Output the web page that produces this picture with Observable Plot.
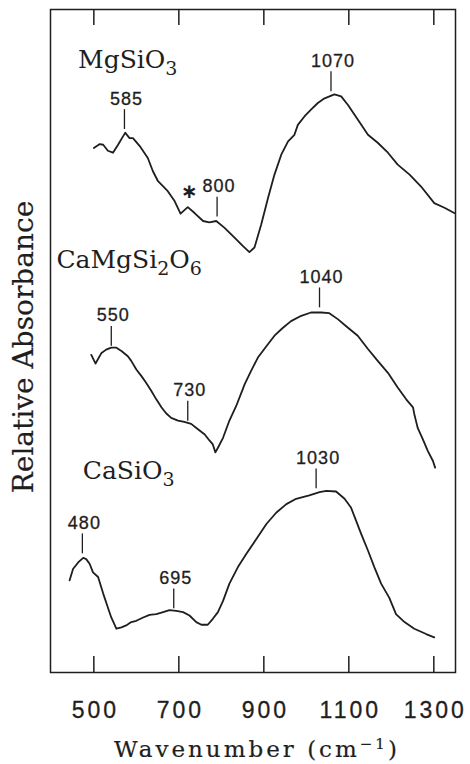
<!DOCTYPE html>
<html><head><meta charset="utf-8">
<script src="https://cdn.jsdelivr.net/npm/d3@7"></script>
<script src="https://cdn.jsdelivr.net/npm/@observablehq/plot@0.6"></script>
<style>
body{margin:0;background:#fff;}
</style></head><body><div id="chart"></div>
<script>
// --- data ---
const mgWn = [500,514,522,533,545,557,569,574,584,592,608,627,639,651,674,690,704,721,737,757,772,788,807,831,851,866,878,894,910,925,941,957,972,980,996,1011,1027,1043,1066,1082,1098,1121,1145,1168,1192,1215,1243,1270,1301,1325,1348];
const mgAbs = [79.1,79.7,79.6,78.7,78.4,79.6,80.9,81.4,80.6,80.6,79.4,77.6,75.6,74.1,72.6,71.1,69.2,70.2,69.3,68.1,67.9,68.1,67.1,65.6,64.3,63.4,64.1,67.6,71.6,75.1,78.1,80.1,81.1,82.6,83.9,84.9,85.9,86.6,87.2,86.9,85.6,83.4,81.1,79.9,78.4,76.6,75.1,73.3,70.8,70.1,69.3];

const cmWn = [494,504,518,529,541,553,565,580,588,600,612,623,635,647,659,670,682,698,713,729,745,761,772,780,786,792,804,819,835,855,870,886,906,925,945,964,988,1011,1035,1054,1074,1098,1121,1145,1168,1192,1215,1235,1251,1254,1262,1274,1286,1298,1303];
const cmAbs = [47.9,46.6,48.2,48.7,49.0,49.0,48.5,47.7,47.0,45.7,44.7,43.7,42.5,41.2,40.0,39.1,38.4,38.0,37.8,37.5,36.7,35.9,35.0,34.4,33.2,33.9,35.4,38.0,40.2,43.5,45.5,47.5,49.2,50.8,52.0,53.0,53.8,54.3,54.3,54.2,53.3,52.0,50.8,48.8,47.0,45.2,43.0,41.2,40.0,39.0,36.9,35.2,33.4,31.9,30.9];

const caWn = [443,451,463,475,482,490,498,510,522,533,541,553,565,576,588,600,616,631,647,663,678,694,710,725,741,753,768,780,792,804,819,839,859,882,906,929,953,976,1007,1031,1047,1070,1090,1105,1117,1129,1145,1160,1176,1195,1211,1231,1254,1282,1301];
const caAbs = [13.9,15.6,16.6,17.3,17.1,16.4,15.1,14.4,11.9,9.8,8.3,6.6,6.8,7.1,7.6,7.8,8.3,8.7,8.8,9.1,9.4,9.3,9.1,8.6,7.6,7.2,7.2,8.1,9.1,10.8,13.4,15.9,17.9,20.1,22.4,24.1,25.4,26.2,26.7,27.2,27.4,27.3,26.2,24.9,22.9,20.9,18.4,15.9,13.4,11.3,8.8,7.6,6.6,5.8,5.3];

const compoundNames = ["MgSiO₃", "CaMgSi₂O₆", "CaSiO₃"];
const compoundLabelWn = [463, 412, 474];
const compoundLabelAbs = [91.2, 61.0, 29.2];

const peakLabels = ["585", "800", "1070", "550", "730", "1040", "480", "695", "1030"];
const peakWn = [572, 790, 1058, 541, 721, 1031, 473, 688, 1023];
const peakBase = [81.9, 68.7, 87.6, 49.2, 37.9, 55.0, 17.9, 9.6, 27.7];
const peakTickLen = 3;

const starWn = [725];
const starAbs = [72.6];

const xTicks = [500, 700, 900, 1100, 1300];
const xLabel = "Wavenumber (cm⁻¹)";
const yLabel = "Relative Absorbance";

// --- tables ---
const spectra = [
  ...mgWn.map((w, i) => ({compound: compoundNames[0], wn: w, abs: mgAbs[i]})),
  ...cmWn.map((w, i) => ({compound: compoundNames[1], wn: w, abs: cmAbs[i]})),
  ...caWn.map((w, i) => ({compound: compoundNames[2], wn: w, abs: caAbs[i]}))
];
const compounds = compoundNames.map((n, i) => ({name: n, wn: compoundLabelWn[i], abs: compoundLabelAbs[i]}));
const peaks = peakLabels.map((t, i) => ({label: t, wn: peakWn[i], base: peakBase[i]}));
const stars = starWn.map((w, i) => ({wn: w, abs: starAbs[i]}));

const W = 470, H = 764, mT = 9, mB = 92, mL = 50, mR = 15;
const innerH = H - mT - mB;
const ink = "#1e1e1e";
const serif = "DejaVu Serif";
const sans = "Liberation Sans";

const chart = Plot.plot({
  width: W, height: H,
  marginTop: mT, marginBottom: mB, marginLeft: mL, marginRight: mR,
  x: {domain: [398, 1351], axis: null},
  y: {domain: [0, 100], axis: null},
  style: {background: "#fff", color: ink},
  marks: [
    Plot.frame({stroke: ink, strokeWidth: 1.5}),
    Plot.ruleX(xTicks, {x: d => d, insetTop: innerH - 16, stroke: ink, strokeWidth: 1.5}),
    Plot.ruleX(xTicks, {x: d => d, insetBottom: innerH - 16, stroke: ink, strokeWidth: 1.5}),
    Plot.line(spectra, {x: "wn", y: "abs", z: "compound", stroke: ink, strokeWidth: 1.8, strokeLinejoin: "round"}),
    Plot.ruleX(peaks, {x: "wn", y1: "base", y2: d => d.base + peakTickLen, stroke: ink, strokeWidth: 1.3}),
    Plot.text(peaks, {x: "wn", y: d => d.base + peakTickLen, text: "label", dy: -5, dx: 2, lineAnchor: "bottom",
      fontSize: 18, fontFamily: sans, fill: ink, stroke: ink, strokeWidth: 0.3}),
    Plot.text(compounds, {x: "wn", y: "abs", text: "name", textAnchor: "start", lineAnchor: "bottom",
      fontSize: 25, fontFamily: serif, fill: ink}),
    Plot.text(stars, {x: "wn", y: "abs", text: () => "∗", fontSize: 20, fontWeight: "bold", fontFamily: "DejaVu Sans", fill: ink}),
    Plot.text(xTicks, {x: d => d, text: d => String(d), frameAnchor: "bottom", dy: 29, dx: 1.5, lineAnchor: "top",
      fontSize: 23, fontFamily: sans, fill: ink, stroke: ink, strokeWidth: 0.3}),
    Plot.text([xLabel], {frameAnchor: "bottom", dy: 84, dx: 4, lineAnchor: "bottom", textAnchor: "middle",
      fontSize: 23, fontFamily: serif, fill: ink, stroke: ink, strokeWidth: 0.2}),
    Plot.text([yLabel], {frameAnchor: "left", rotate: -90, dx: -26, dy: 6, textAnchor: "middle", lineAnchor: "middle",
      fontSize: 28, fontFamily: serif, fill: ink, stroke: ink, strokeWidth: 0.2})
  ]
});

// typographic touches on the rendered text: letter spacing, true sub- and superscripts
const tickSet = new Set(xTicks.map(String));
const peakSet = new Set(peakLabels);
const subMap = {"₀":"0","₁":"1","₂":"2","₃":"3","₄":"4","₅":"5","₆":"6","₇":"7","₈":"8","₉":"9"};
const supMap = {"⁻":"−","¹":"1","²":"2","³":"3"};
function scriptify(el, size, shiftSub, shiftSup, scriptSize) {
  const s = el.textContent;
  const runs = [];
  for (const c of s) {
    const kind = subMap[c] ? "sub" : supMap[c] ? "sup" : "base";
    const ch = subMap[c] || supMap[c] || c;
    if (runs.length && runs[runs.length - 1].kind === kind) runs[runs.length - 1].t += ch;
    else runs.push({kind, t: ch});
  }
  if (runs.length < 2) return;
  el.textContent = "";
  let offset = 0;
  for (const r of runs) {
    const ts = document.createElementNS("http://www.w3.org/2000/svg", "tspan");
    ts.textContent = r.t;
    const target = r.kind === "sub" ? shiftSub : r.kind === "sup" ? -shiftSup : 0;
    if (target !== offset) { ts.setAttribute("dy", String(target - offset)); offset = target; }
    if (r.kind !== "base") ts.setAttribute("font-size", String(scriptSize));
    el.appendChild(ts);
  }
}
d3.select(chart).selectAll("text").each(function() {
  const s = this.textContent;
  if (tickSet.has(s)) this.style.letterSpacing = "3px";
  else if (peakSet.has(s)) this.style.letterSpacing = "1px";
  else if (s === xLabel) { this.style.letterSpacing = "3px"; scriptify(this, 23, 0, 8, 15); }
  else if ([...s].some(c => subMap[c])) scriptify(this, 25, 7, 0, 19);
});
document.getElementById("chart").appendChild(chart);
</script></body></html>
